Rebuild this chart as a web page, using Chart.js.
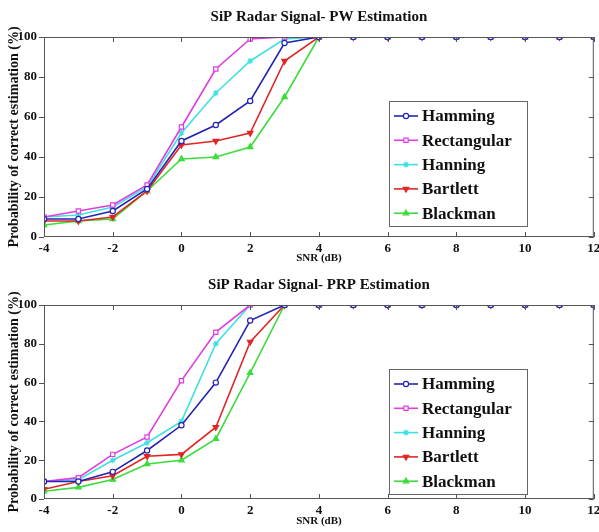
<!DOCTYPE html>
<html>
<head>
<meta charset="utf-8">
<script src="https://cdn.jsdelivr.net/npm/chart.js@4.4.1/dist/chart.umd.min.js"></script>
<style>
body{margin:0;background:#fff;}
.box{width:599px;height:266px;}
</style>
</head>
<body>
<div class="box"><canvas id="pwChart" width="599" height="266"></canvas></div>
<div class="box"><canvas id="prpChart" width="599" height="266"></canvas></div>
<script>
// SNR values (dB)
const snr = [-4,-3,-2,-1,0,1,2,3,4,5,6,7,8,9,10,11,12];

const seriesNames = ['Hamming','Rectangular','Hanning','Bartlett','Blackman'];
const seriesColors = ['#2424b4','#e03ce0','#40e0e0','#e02626','#3cdc3c'];

// PW estimation
const pwHamming     = [9,9,13,24,48,56,68,97,100,100,100,100,100,100,100,100,100];
const pwRectangular = [10,13,16,26,55,84,99,100,100,100,100,100,100,100,100,100,100];
const pwHanning     = [10,11,15,25,52,72,88,99,100,100,100,100,100,100,100,100,100];
const pwBartlett    = [8,8,10,23,46,48,52,88,100,100,100,100,100,100,100,100,100];
const pwBlackman    = [6,8,9,23,39,40,45,70,100,100,100,100,100,100,100,100,100];

// PRP estimation
const prpHamming     = [9,9,14,25,38,60,92,100,100,100,100,100,100,100,100,100,100];
const prpRectangular = [9,11,23,32,61,86,100,100,100,100,100,100,100,100,100,100,100];
const prpHanning     = [9,10,20,29,40,80,100,100,100,100,100,100,100,100,100,100,100];
const prpBartlett    = [5,9,12,22,23,37,81,100,100,100,100,100,100,100,100,100,100];
const prpBlackman    = [4,6,10,18,20,31,65,100,100,100,100,100,100,100,100,100,100];

const xTicks = [-4,-2,0,2,4,6,8,10,12];
const yTicks = [0,20,40,60,80,100];

const pointStyles = ['circle','rect','star','triangle','triangle'];
const pointRot = [0,0,0,180,0];
const pointSize = [2.6,3,3,3.2,3.2];
const pointFill = ['#ffffff','#ffffff','#40e0e0','#e02626','#3cdc3c'];

const serif = '"Liberation Serif", "Times New Roman", serif';

function makeSets(lists){
  return lists.map(function(vals, i){
    return {
      label: seriesNames[i],
      data: vals.map(function(v, k){ return {x: snr[k], y: v}; }),
      borderColor: seriesColors[i],
      backgroundColor: pointFill[i],
      borderWidth: 1.6,
      pointStyle: pointStyles[i],
      pointRotation: pointRot[i],
      pointRadius: pointSize[i],
      pointBorderWidth: 1.2,
      pointBorderColor: seriesColors[i],
      tension: 0
    };
  });
}

// box, ticks and legend inside the plot
const framePlugin = {
  id: 'frame',
  afterDraw(chart){
    const c = chart.ctx, a = chart.chartArea;
    const xs = chart.scales.x, ys = chart.scales.y;
    c.save();
    c.strokeStyle = '#555';
    c.lineWidth = 1;
    c.strokeRect(a.left + 0.5, a.top + 0.5, a.right - a.left - 1, a.bottom - a.top - 1);
    c.beginPath();
    xTicks.forEach(function(t){
      const px = Math.round(xs.getPixelForValue(t)) + 0.5;
      c.moveTo(px, a.bottom); c.lineTo(px, a.bottom - 5);
      c.moveTo(px, a.top); c.lineTo(px, a.top + 5);
    });
    yTicks.forEach(function(t){
      const py = Math.round(ys.getPixelForValue(t)) + 0.5;
      c.moveTo(a.left - 5, py); c.lineTo(a.left, py);
      c.moveTo(a.right, py); c.lineTo(a.right - 5, py);
    });
    c.stroke();

    // legend
    const bx = a.left + 345, by = a.top + 64, bw = 138, bh = 125;
    c.fillStyle = '#fff';
    c.fillRect(bx, by, bw, bh);
    c.strokeStyle = '#666';
    c.strokeRect(bx + 0.5, by + 0.5, bw, bh);
    c.font = 'bold 17px ' + serif;
    c.textBaseline = 'middle';
    chart.data.datasets.forEach(function(ds, i){
      const ly = by + 15 + i * 24.3;
      c.strokeStyle = ds.borderColor;
      c.lineWidth = 1.6;
      c.beginPath(); c.moveTo(bx + 5, ly); c.lineTo(bx + 29, ly); c.stroke();
      c.fillStyle = ds.backgroundColor;
      c.lineWidth = 1.2;
      Chart.helpers.drawPoint(c, {pointStyle: ds.pointStyle, radius: ds.pointRadius, rotation: ds.pointRotation, borderWidth: 1.2}, bx + 17, ly);
      c.fillStyle = '#111';
      c.fillText(ds.label, bx + 33, ly + 1);
    });
    c.restore();
  }
};

function makeChart(id, titleText, lists, padTop, xHeight, xTitlePad){
  return new Chart(document.getElementById(id), {
    type: 'line',
    data: { datasets: makeSets(lists) },
    options: {
      responsive: false,
      animation: false,
      layout: { padding: { left: 0, right: 3, top: padTop, bottom: 0 } },
      plugins: {
        legend: { display: false },
        tooltip: { enabled: false },
        title: {
          display: true,
          text: titleText,
          fullSize: false,
          color: '#111',
          font: { family: serif, size: 15, weight: 'bold' },
          padding: { top: 8, bottom: 11 }
        }
      },
      scales: {
        x: {
          type: 'linear',
          min: -4, max: 12,
          afterFit(s){ s.height = xHeight; s.paddingLeft = 0; s.paddingRight = 0; },
          ticks: { stepSize: 2, padding: 4, color: '#111', maxRotation: 0,
                   font: { family: serif, size: 13, weight: 'bold' } },
          grid: { display: false, drawTicks: false },
          border: { display: false },
          title: { display: true, text: 'SNR (dB)', color: '#111', padding: { top: 0, bottom: xTitlePad },
                   font: { family: serif, size: 11, weight: 'bold' } }
        },
        y: {
          min: 0, max: 100,
          afterFit(s){ s.width = 44; s.paddingTop = 0; s.paddingBottom = 0; },
          ticks: { stepSize: 20, padding: 7, color: '#111',
                   font: { family: serif, size: 13, weight: 'bold' } },
          grid: { display: false, drawTicks: false },
          border: { display: false },
          title: { display: true, text: 'Probability of correct estimation (%)', color: '#111',
                   padding: { top: 6, bottom: 0 },
                   font: { family: serif, size: 14, weight: 'bold' } }
        }
      }
    },
    plugins: [framePlugin]
  });
}

makeChart('pwChart', 'SiP Radar Signal- PW Estimation',
  [pwHamming, pwRectangular, pwHanning, pwBartlett, pwBlackman], 0, 29, 1);
makeChart('prpChart', 'SiP Radar Signal- PRP Estimation',
  [prpHamming, prpRectangular, prpHanning, prpBartlett, prpBlackman], 2, 33, 4);
</script>
</body>
</html>
